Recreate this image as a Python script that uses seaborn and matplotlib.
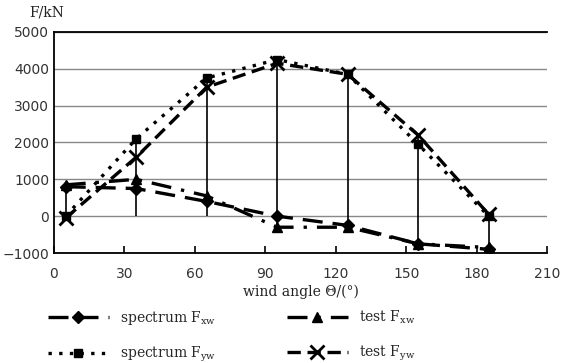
import numpy as np
import pandas as pd
import seaborn as sns
import matplotlib.pyplot as plt
from matplotlib.lines import Line2D

# wind angle (deg) and forces (kN)
angle = [5, 35, 65, 95, 125, 155, 185]
spectrum_fxw = [800, 750, 400, 0, -250, -750, -900]
test_fxw = [850, 1000, 550, -300, -300, -750, -850]
spectrum_fyw = [0, 2100, 3750, 4250, 3850, 1950, 0]
test_fyw = [-50, 1600, 3500, 4150, 3850, 2200, 50]

labels = ['spectrum F$_{\\mathregular{xw}}$', 'test F$_{\\mathregular{xw}}$',
          'spectrum F$_{\\mathregular{yw}}$', 'test F$_{\\mathregular{yw}}$']

df = pd.DataFrame({'angle': angle, 'sfx': spectrum_fxw, 'tfx': test_fxw,
                   'sfy': spectrum_fyw, 'tfy': test_fyw})

sns.set_style('white')
plt.rcParams['font.family'] = ['DejaVu Sans']
plt.rcParams['mathtext.fontset'] = 'dejavuserif'

fig = plt.figure(figsize=(5.62, 3.63), dpi=100)
ax = fig.add_axes([0.096, 0.303, 0.878, 0.609])

# vertical drop lines spanning the series at each angle
vals = df[['sfx', 'tfx', 'sfy', 'tfy']]
ax.vlines(df['angle'], np.minimum(vals.min(axis=1), 0), vals.max(axis=1),
          color='black', lw=1.2, zorder=2)

styles = {
    'sfx': dict(ls=(0, (6, 3)), marker='D', ms=6),
    'tfx': dict(ls=(0, (6, 3, 1, 3)), marker='^', ms=7),
    'sfy': dict(ls=(0, (1, 2.2)), marker='s', ms=6),
    'tfy': dict(ls=(0, (4, 2)), marker='x', ms=10, mew=2),
}
for col in ['sfx', 'tfx', 'sfy', 'tfy']:
    st = styles[col]
    sns.lineplot(data=df, x='angle', y=col, ax=ax, color='black', lw=2.4,
                 linestyle=st['ls'], marker=st['marker'], markersize=st['ms'],
                 markeredgewidth=st.get('mew', 1), markeredgecolor='black',
                 zorder=3)

ax.set_xlim(0, 210)
ax.set_ylim(-1000, 5000)
ax.set_xticks(range(0, 211, 30))
ax.set_yticks(range(-1000, 5001, 1000))
ax.yaxis.grid(True, color='#888888', lw=1)
ax.set_axisbelow(True)
for s in ['left', 'bottom', 'top']:
    ax.spines[s].set_color('black')
    ax.spines[s].set_linewidth(1.3)
ax.spines['right'].set_visible(False)
ax.tick_params(axis='x', direction='in', length=5, width=1.2, bottom=True,
               labelsize=10, pad=10, colors='black')
ax.tick_params(axis='y', length=0, labelsize=10, colors='black')
for t in ax.get_xticklabels() + ax.get_yticklabels():
    t.set_color('#333333')

ax.set_xlabel('wind angle \u0398/(\u00b0)', fontsize=10, family='DejaVu Serif',
              labelpad=3, color='#222222')
ax.set_ylabel('')
fig.text(0.052, 0.955, 'F/kN', fontsize=10, family='DejaVu Serif', color='#222222')

handles = [
    Line2D([], [], color='black', lw=2.4, ls=styles[c]['ls'],
           marker=styles[c]['marker'], ms=styles[c]['ms'],
           mew=styles[c].get('mew', 1))
    for c in ['sfx', 'sfy', 'tfx', 'tfy']
]
leg_labels = [labels[0], labels[2], labels[1], labels[3]]
fig.legend(handles, leg_labels, loc='upper left', bbox_to_anchor=(0.075, 0.165),
           ncol=2, frameon=False, handlelength=4.4, columnspacing=5.1,
           labelspacing=1.3, borderaxespad=0,
           prop={'family': 'DejaVu Serif', 'size': 10})

fig.savefig('out.png', dpi=100)
